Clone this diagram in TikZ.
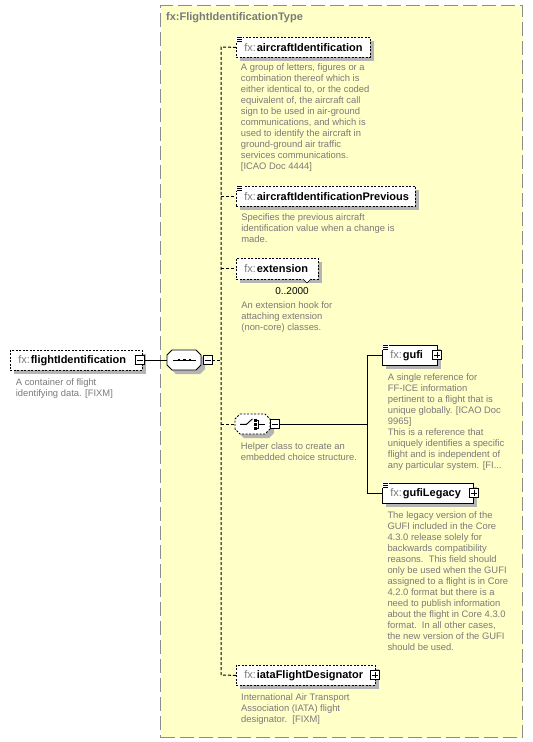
\documentclass[tikz,border=0pt]{standalone}
\usepackage{fontspec}
\setmainfont{Liberation Sans}
\usetikzlibrary{shadows}
\definecolor{boxyellow}{HTML}{FFFFC8}
\definecolor{boxborder}{HTML}{8C8C8C}
\definecolor{desc}{HTML}{7A7A7A}
\definecolor{shadowgray}{HTML}{B4B4B4}
\newcommand\elemlbl[2]{\makebox[#1pt][l]{\textcolor{desc}{fx:}\hspace{0.8pt}\textbf{#2}}}
% octagon outline: x1 y1 x2 y2 style
\newcommand\octopath[5]{%
  \fill[shadowgray] (#1+5+4,#2+4) -- (#3-5+4,#2+4) -- (#3+4,#2+5+4) -- (#3+4,#4-5+4) -- (#3-5+4,#4+4) -- (#1+5+4,#4+4) -- (#1+4,#4-5+4) -- (#1+4,#2+5+4) -- cycle;
  \draw[fill=white, line width=0.8pt, #5] (#1+5,#2) -- (#3-5,#2) -- (#3,#2+5) -- (#3,#4-5) -- (#3-5,#4) -- (#1+5,#4) -- (#1,#4-5) -- (#1,#2+5) -- cycle;}
\tikzset{
  elem/.style={draw=black, line width=0.8pt, fill=white, minimum height=20pt,
    inner xsep=8pt, inner ysep=0pt, anchor=north west,
    font=\fontsize{11}{13}\selectfont,
    general shadow={fill=shadowgray, shadow xshift=4pt, shadow yshift=-4pt}},
  optional/.style={dash pattern=on 2pt off 1.5pt},
  desctext/.style={anchor=north west, inner sep=0pt, align=left, text=desc,
    font=\fontsize{9.4}{11}\selectfont},
  pmbox/.style={draw=black, line width=0.7pt, fill=white, minimum size=9pt, inner sep=0pt},
  plusbox/.style={pmbox, path picture={
      \draw[line width=0.8pt] ([xshift=-3pt]path picture bounding box.center) -- ([xshift=3pt]path picture bounding box.center);
      \draw[line width=0.8pt] ([yshift=-3pt]path picture bounding box.center) -- ([yshift=3pt]path picture bounding box.center);}},
  minusbox/.style={pmbox, path picture={
      \draw[line width=0.8pt] ([xshift=-3pt]path picture bounding box.center) -- ([xshift=3pt]path picture bounding box.center);}},
  conn/.style={line width=1pt},
  dconn/.style={line width=1pt, dash pattern=on 3pt off 2pt},
  compnode/.style={minimum width=34pt, minimum height=20pt, inner sep=0pt},
  eqicon/.pic={
    \fill[white] (0.3,-1.2) rectangle (6.5,5.2);
    \draw[line width=0.6pt] (1,0.5) -- (6.3,0.5) (1,2.5) -- (5.5,2.5) (1,4.5) -- (5.5,4.5);
  }
}
\begin{document}
\begin{tikzpicture}[x=1pt, y=-1pt]
\useasboundingbox (0,0) rectangle (533,742);
% container
\node[draw=boxborder, fill=boxyellow, line width=1.2pt, dash pattern=on 14pt off 5pt,
  minimum width=362pt, minimum height=732pt, anchor=north west, inner sep=0pt] (type) at (160,5) {};
\node[anchor=west, inner sep=0pt, text=desc, font=\fontsize{11}{13}\selectfont\bfseries] (title) at (166,18) {fx:FlightIdentificationType};

% root element
\node[elem, optional] (flight) at (10,350) {\elemlbl{116}{flightIdentification}};
\node[minusbox] (flightpm) at (139.5,360) {};
\node[desctext] (flightd) at (15.7,378.3) {A container of flight\\identifying data. [FIXM]};

% sequence compositor
\node[compnode] (seq) at (184,360) {};
\octopath{167}{350}{201}{370}{}
\draw[line width=0.8pt] (173,360) -- (196,360);
\foreach \dx in {179,184.5,190} \fill (\dx-1.4,358.6) rectangle (\dx+1.4,361.4);
\node[minusbox] (seqpm) at (207.5,360) {};

% trunk coordinates
\coordinate (trunktop) at (221,47);
\coordinate (trunkbot) at (221,675);

% children
\node[elem, optional] (aid) at (236,37) {\elemlbl{118}{aircraftIdentification}};
\pic at (aid.north west) {eqicon};
\node[desctext] (aidd) at (240.7,63.9) {A group of letters, figures or a\\combination thereof which is\\either identical to, or the coded\\equivalent of, the aircraft call\\sign to be used in air-ground\\communications, and which is\\used to identify the aircraft in\\ground-ground air traffic\\services communications.\\{}[ICAO Doc 4444]};

\node[elem, optional] (aidp) at (236,186) {\elemlbl{163}{aircraftIdentificationPrevious}};
\pic at (aidp.north west) {eqicon};
\node[desctext] (aidpd) at (241.2,213.3) {Specifies the previous aircraft\\identification value when a change is\\made.};

\node[elem, optional, minimum height=21pt] (ext) at (236,258) {\elemlbl{66}{extension}};
\draw[line width=0.6pt, fill=white] (303,279) -- (307,283) -- (311,279);
\node[inner sep=0pt, font=\fontsize{10}{12}\selectfont] (extm) at (292,291) {0..2000};
\node[desctext] (extd) at (241.2,301.3) {An extension hook for\\attaching extension\\(non-core) classes.};

% choice compositor
\node[compnode, minimum width=35pt] (chc) at (252.5,424) {};
\octopath{235}{414}{270}{434}{dash pattern=on 2pt off 1.5pt}
\draw[line width=0.9pt] (240,424.3) -- (246.5,424.3) -- (252.5,418.8);
\foreach \yy in {420.5,424.3,428.3} \fill (254,\yy-1.3) rectangle (256.6,\yy+1.3);
\draw[line width=0.9pt] (255.2,420.5) -- (258,420.5) -- (258,428.3) -- (255.2,428.3) (258,424.3) -- (265,424.3);
\node[minusbox] (chcpm) at (275,424) {};
\node[desctext] (chcd) at (240.7,442.3) {Helper class to create an\\embedded choice structure.};
\coordinate (bus) at (367,424);

\node[elem] (gufi) at (382,345) {\elemlbl{39}{gufi}};
\pic at (gufi.north west) {eqicon};
\node[plusbox] (gufipm) at (437,355) {};
\node[desctext] (gufid) at (387.7,373.3) {A single reference for\\FF-ICE information\\pertinent to a flight that is\\unique globally. [ICAO Doc\\9965]\\This is a reference that\\uniquely identifies a specific\\flight and is independent of\\any particular system. [FI...};

\node[elem] (gl) at (382,483) {\elemlbl{75}{gufiLegacy}};
\pic at (gl.north west) {eqicon};
\node[plusbox] (glpm) at (474,493) {};
\node[desctext] (gld) at (387.3,511.3) {The legacy version of the\\GUFI included in the Core\\4.3.0 release solely for\\backwards compatibility\\reasons.\ \ This field should\\only be used when the GUFI\\assigned to a flight is in Core\\4.2.0 format but there is a\\need to publish information\\about the flight in Core 4.3.0\\format.\ \ In all other cases,\\the new version of the GUFI\\should be used.};

\node[elem, optional] (iata) at (236,665) {\elemlbl{123}{iataFlightDesignator}};
\node[plusbox] (iatapm) at (375,675) {};
\node[desctext] (iatad) at (241,693) {International Air Transport\\Association (IATA) flight\\designator.\ \ [FIXM]};

% connectors
\draw[conn] (flightpm.east) -- (seq.west);
\draw[dconn] (seqpm.east) -- (seqpm.east -| trunktop);
\draw[dconn] (aid.west) -- (trunktop) -- (trunkbot) -- (iata.west);
\draw[dconn] (aidp.west -| trunktop) -- (aidp.west);
\draw[dconn] (ext.west -| trunktop) -- (ext.west);
\draw[dconn] (chc.west -| trunktop) -- (chc.west);
\draw[conn] (chcpm.east) -- (bus);
\draw[conn] (gufi.west) -- (gufi.west -| bus) -- (gl.west -| bus) -- (gl.west);
\end{tikzpicture}
\end{document}
